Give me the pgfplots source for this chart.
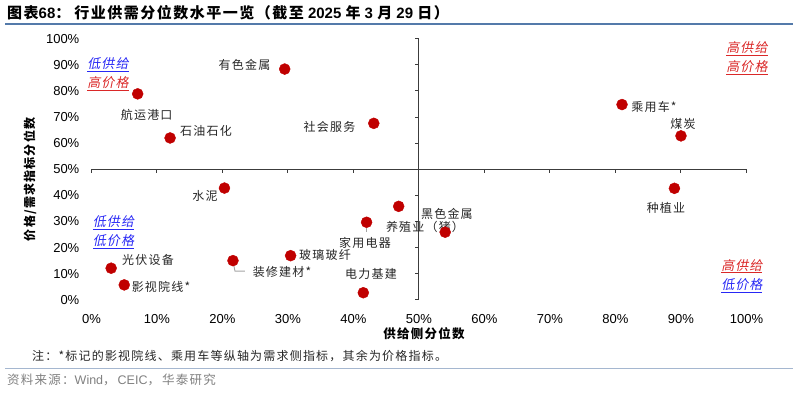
\documentclass[border=0pt]{standalone}
\usepackage{fontspec}
\setmainfont{Liberation Sans}
\newfontfamily\cjk{Noto Sans CJK SC}[LetterSpace=10]
\newfontfamily\cjkit{Noto Sans CJK SC}[FakeSlant=0.2,LetterSpace=8]
\usepackage{pgfplots}
\pgfplotsset{compat=1.18}
\definecolor{dotred}{RGB}{192,0,0}
\definecolor{qred}{RGB}{218,40,40}
\definecolor{qblue}{RGB}{40,40,245}
\definecolor{axgray}{RGB}{60,60,60}
\definecolor{titleline}{RGB}{84,122,170}
\definecolor{srcline}{RGB}{165,183,208}
\definecolor{srcgray}{RGB}{128,128,128}
\definecolor{leadgray}{RGB}{165,165,165}
\newcommand{\ql}[2]{\textcolor{#1}{\cjkit\underline{#2}}}
\begin{document}
\begin{tikzpicture}
\begin{axis}[
  scale only axis, width=655pt, height=261pt,
  xmin=0, xmax=100, ymin=0, ymax=100,
  axis line style={draw=none},
  major tick length=0pt,
  xtick={0,10,...,100}, ytick={0,10,...,100},
  xticklabels={0\%,10\%,20\%,30\%,40\%,50\%,60\%,70\%,80\%,90\%,100\%},
  yticklabels={0\%,10\%,20\%,30\%,40\%,50\%,60\%,70\%,80\%,90\%,100\%},
  tick label style={font=\fontsize{13}{15}\selectfont, text=black},
  xticklabel style={anchor=north, inner sep=0pt, yshift=-14pt},
  yticklabel style={anchor=east, inner sep=0pt, xshift=-12pt},
  xlabel={\cjk\bfseries 供给侧分位数},
  xlabel style={at={(axis description cs:0.5076,-0.131)}, anchor=center, font=\fontsize{12.5}{14}\selectfont},
  ylabel={\cjk\bfseries 价格/需求指标分位数},
  ylabel style={at={(axis description cs:-0.0939,0.461)}, anchor=center, font=\fontsize{12}{14}\selectfont},
  clip=false,
]
% bounding frame (invisible)
\path (axis cs:-13.97,114.86) rectangle (axis cs:108.02,-35.71);
% centre axes
\draw[axgray, line width=1pt] (axis cs:0,50) -- (axis cs:100,50);
\draw[axgray, line width=1pt] (axis cs:50,0) -- (axis cs:50,100);
\pgfplotsinvokeforeach{0,10,20,30,40,50,60,70,80,90,100}{
  \draw[axgray, line width=1pt] (axis cs:#1,50) -- ++(0pt,-4pt);
  \draw[axgray, line width=1pt] (axis cs:50,#1) -- ++(-4pt,0pt);
}
% leader lines
\draw[leadgray, line width=0.9pt] (axis cs:21.6,15.0) -- (axis cs:21.9,11.0) -- (axis cs:23.4,11.0);
\draw[leadgray, line width=0.9pt] (axis cs:42.0,29.7) -- (axis cs:42.0,26.1);
% data
\addplot[only marks, mark=*, mark size=5.5pt, color=dotred, mark options={draw=dotred, fill=dotred}] coordinates {
 (7.05,78.9) (12.0,62.0) (29.5,88.4) (43.1,67.6) (20.3,42.8)
 (81.0,74.8) (90.0,62.8) (89.0,42.7) (3.0,12.1) (5.0,5.7)
 (21.6,15.0) (30.4,16.9) (42.0,29.7) (46.9,35.8) (54.0,25.9) (41.5,2.7)
};
% point labels
\begin{scope}[every node/.style={font=\fontsize{12}{14}\selectfont\cjk, text=black!85, inner sep=0pt}]
\node at (axis cs:8.43,70.8) {航运港口};
\node at (axis cs:17.48,64.7) {石油石化};
\node at (axis cs:23.36,90.0) {有色金属};
\node at (axis cs:36.34,66.2) {社会服务};
\node at (axis cs:17.33,39.8) {水泥};
\node at (axis cs:85.88,73.9) {乘用车*};
\node at (axis cs:90.31,67.4) {煤炭};
\node at (axis cs:87.71,35.2) {种植业};
\node at (axis cs:8.63,15.2) {光伏设备};
\node at (axis cs:10.61,4.9) {影视院线*};
\node at (axis cs:29.08,10.7) {装修建材*};
\node at (axis cs:35.65,17.2) {玻璃玻纤};
\node at (axis cs:41.76,21.8) {家用电器};
\node at (axis cs:42.67,9.9) {电力基建};
\node at (axis cs:54.27,32.9) {黑色金属};
\node at (axis cs:50.92,27.9) {养殖业（猪）};
\end{scope}
% quadrant labels
\begin{scope}[every node/.style={font=\fontsize{13}{15}\selectfont, inner sep=0pt}]
\node at (axis cs:2.52,90.0) {\ql{qblue}{低供给}};
\node at (axis cs:2.52,82.7) {\ql{qred}{高价格}};
\node at (axis cs:100.08,96.1) {\ql{qred}{高供给}};
\node at (axis cs:100.08,88.8) {\ql{qred}{高价格}};
\node at (axis cs:3.36,29.4) {\ql{qblue}{低供给}};
\node at (axis cs:3.36,22.1) {\ql{qblue}{低价格}};
\node at (axis cs:99.3,12.9) {\ql{qred}{高供给}};
\node at (axis cs:99.3,5.3) {\ql{qblue}{低价格}};
\end{scope}
% title, rules, note, source
\node[anchor=west, inner sep=0pt, font=\fontsize{15}{17}\selectfont\bfseries] at (axis cs:-12.9,109.9)
  {{\cjk 图表}68{\cjk ：}\hspace{4pt}{\cjk 行业供需分位数水平一览（截至}\ 2025\ {\cjk 年}\ 3\ {\cjk 月}\ 29\ {\cjk 日）}};
\draw[titleline, line width=1.2pt] (axis cs:-13.2,105.67) -- (axis cs:107.1,105.67);
\node[anchor=west, inner sep=0pt, font=\fontsize{12}{14}\selectfont\cjk, text=black!85] at (axis cs:-9.08,-21.42)
  {注：*标记的影视院线、乘用车等纵轴为需求侧指标，其余为价格指标。};
\draw[srcline, line width=1pt] (axis cs:-13.2,-26.3) -- (axis cs:107.1,-26.3);
\node[anchor=west, inner sep=0pt, font=\fontsize{12.5}{14}\selectfont, text=srcgray] at (axis cs:-12.9,-30.73)
  {{\cjk 资料来源：}Wind{\cjk ，}\hspace{2pt}CEIC{\cjk ，}\hspace{2pt}{\cjk 华泰研究}};
\end{axis}
\end{tikzpicture}
\end{document}
